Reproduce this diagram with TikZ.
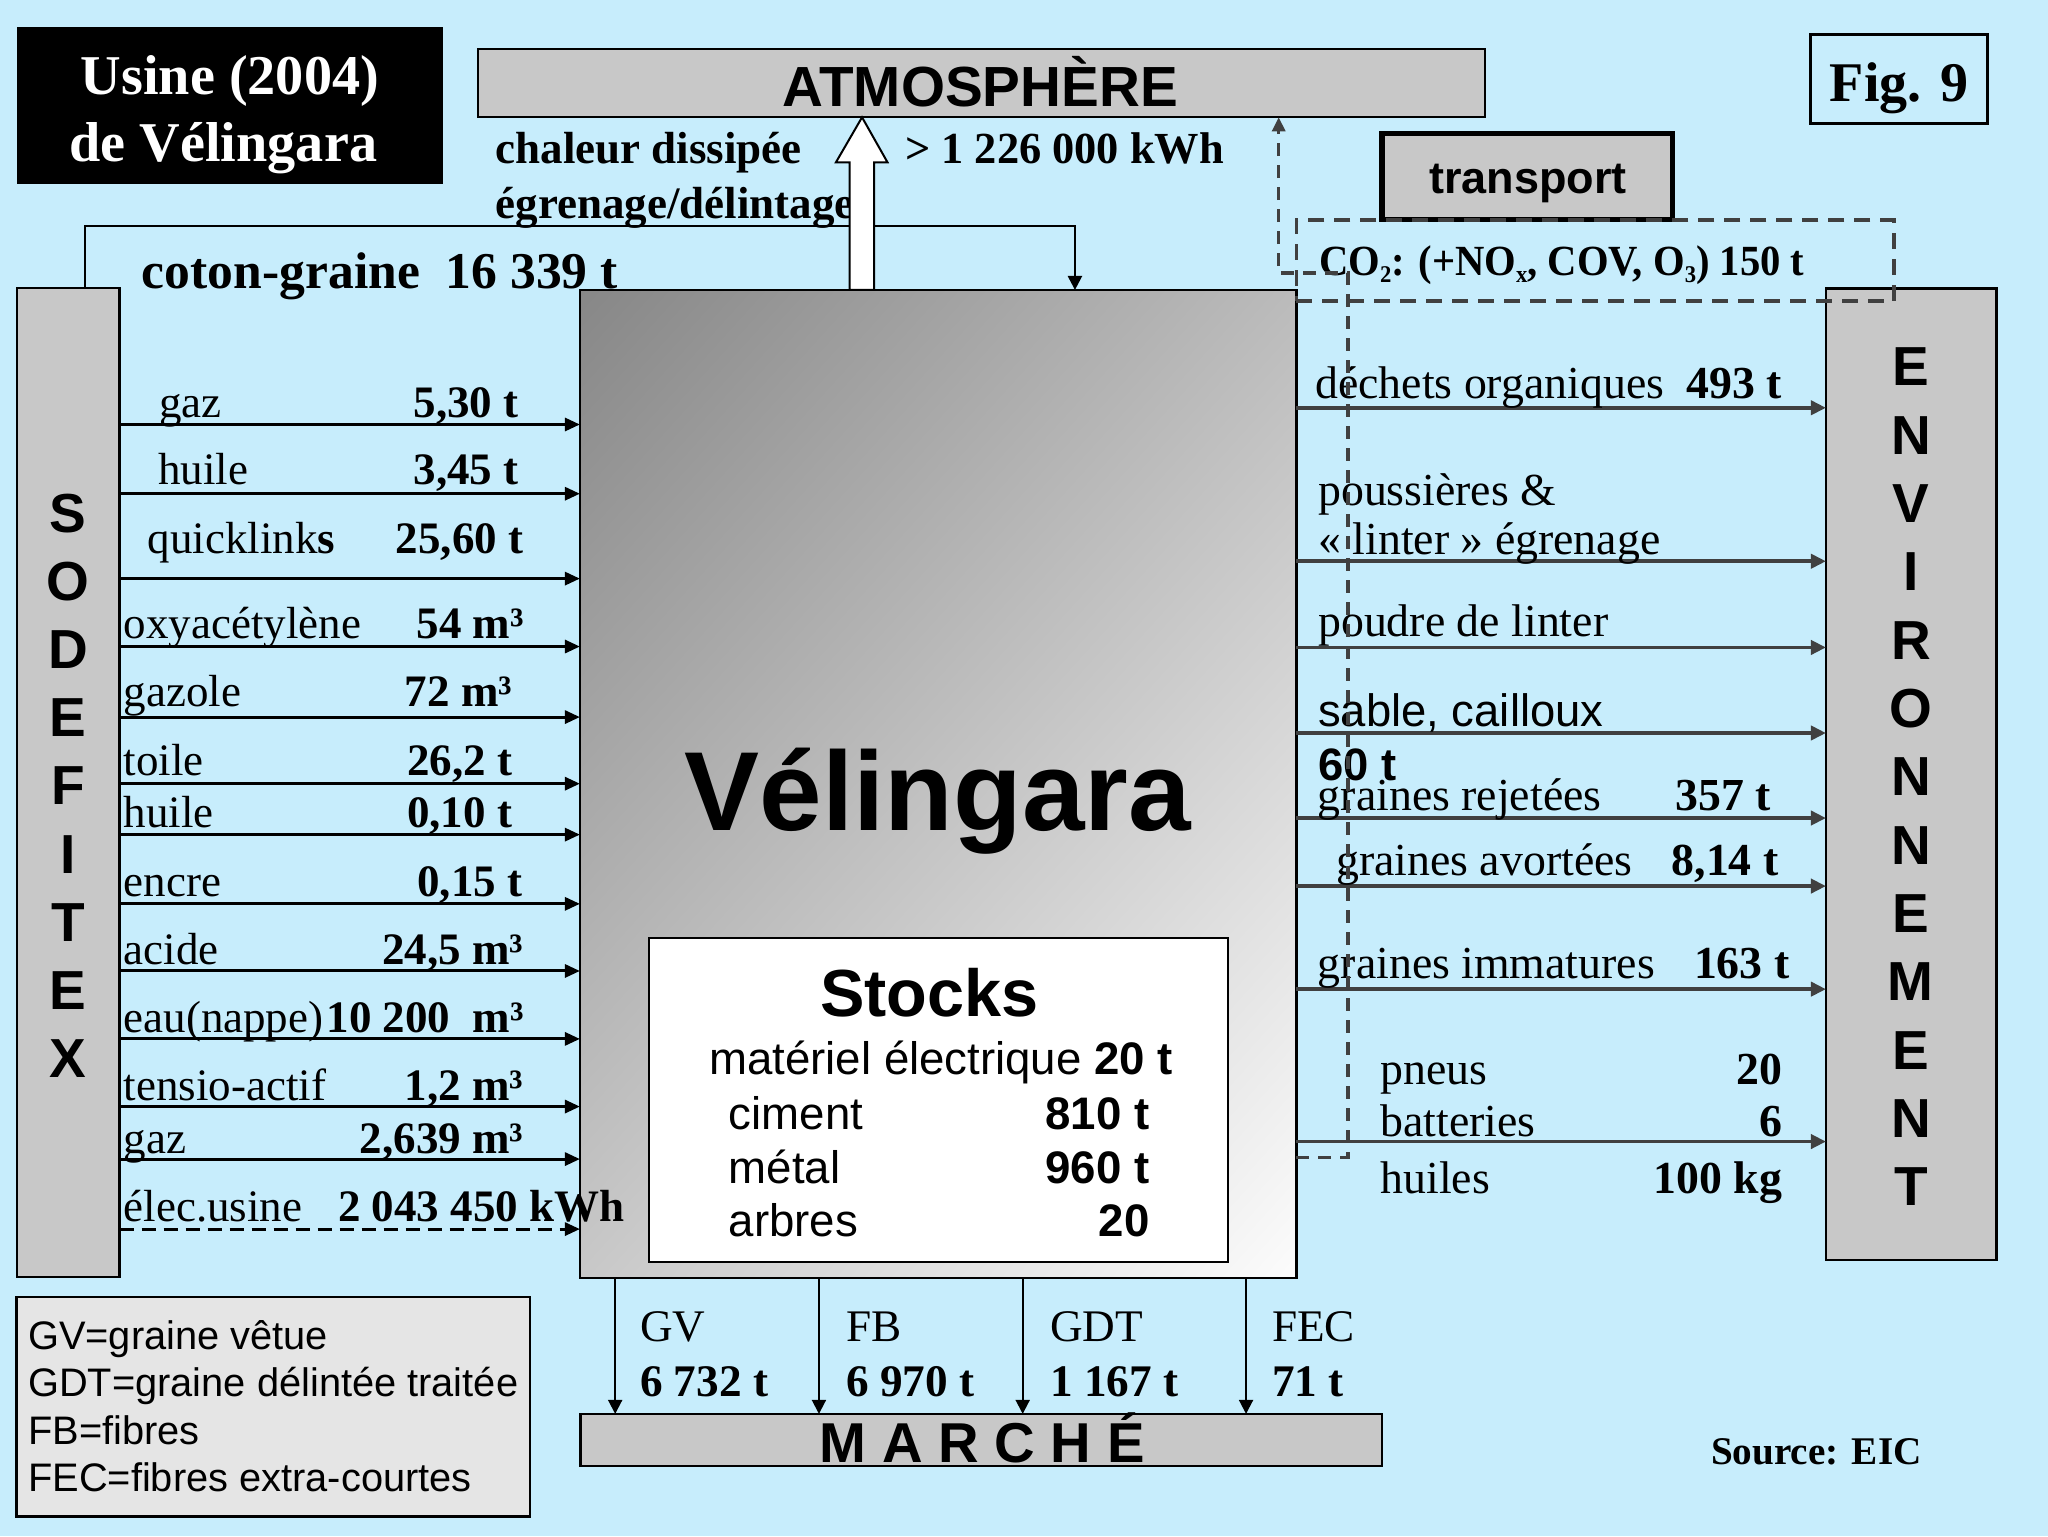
\documentclass[tikz,border=0pt]{standalone}
\usepackage{fontspec}
\usepackage{graphicx}
\setmainfont{Liberation Serif}
\setsansfont{Liberation Sans}
\usetikzlibrary{arrows.meta,fit}
\definecolor{bg}{RGB}{199,237,252}
\definecolor{boxgray}{RGB}{200,200,200}
\definecolor{leggray}{RGB}{229,229,229}
\definecolor{dk}{RGB}{64,64,64}
\newcommand\fz[1]{\fontsize{#1pt}{#1pt}\selectfont}
\newcommand\sbs[1]{\raisebox{-0.35ex}{\fontsize{12pt}{12pt}\selectfont #1}}
\pgfdeclarefunctionalshading{velshade}{\pgfpoint{0bp}{0bp}}{\pgfpoint{100bp}{100bp}}{}{1.3 mul neg exch 1.04 mul add 206.5 add 255 div dup dup}
\tikzset{
  box/.style={draw=black, line width=1.2pt, inner sep=0pt, outer sep=0pt},
  txt/.style={inner sep=0pt, outer sep=0pt},
  lbl/.style={txt, anchor=base west, font=\fz{22.5}},
  lblb/.style={txt, anchor=base east, font=\fz{22.5}\bfseries},
  rlbl/.style={txt, anchor=base west, font=\fz{22.9}},
  rval/.style={txt, anchor=base east, font=\fz{22.9}\bfseries},
  blbl/.style={txt, anchor=base west, font=\fz{22.6}},
  bval/.style={txt, anchor=base west, font=\fz{22.6}\bfseries},
  vlet/.style={txt, font=\fz{27.5}\sffamily\bfseries},
  stk/.style={txt, anchor=base west, font=\fz{22.8}\sffamily},
  stkv/.style={txt, anchor=base east, font=\fz{22.8}\sffamily\bfseries},
  leg/.style={txt, anchor=base west, font=\fz{19.9}\sffamily},
  inarr/.style={draw=black, line width=1.5pt, -{Triangle[length=7.5pt,width=6.5pt]}},
  outarr/.style={draw=dk, line width=1.9pt, -{Triangle[length=7.5pt,width=7pt]}},
  downarr/.style={draw=black, line width=1pt, -{Triangle[length=7pt,width=7pt]}},
  dashline/.style={draw=dk, line width=1.6pt, dash pattern=on 6.5pt off 4.5pt},
  co2box/.style={draw=dk, line width=1.7pt, dash pattern=on 8pt off 5pt, inner sep=0pt, outer sep=0pt},
}
\begin{document}
\begin{tikzpicture}[x=0.65306pt,y=-0.65306pt]
\fill[bg] (0,0) rectangle (1568,1176);
\useasboundingbox (0,0) rectangle (1568,1176);

% ---- boxes
\node[fill=black, inner sep=0pt, outer sep=0pt, fit={(13,21) (339,141)}] (title) {};
\node[txt, anchor=base, text=white, font=\fz{28.1}\bfseries] (title1) at (176,72.7) {Usine (2004)};
\node[txt, anchor=base, text=white, font=\fz{28.1}\bfseries] (title2) at (171,123.8) {de Vélingara};

\node[box, fill=boxgray, fit={(366,37.5) (1137,89.8)}] (atm) {};
\node[txt, anchor=base, font=\fz{28.3}\sffamily\bfseries] (atmtxt) at (750.5,81.2) {ATMOSPHÈRE};

\node[box, line width=1.5pt, fit={(1386,26.5) (1521.5,94.5)}] (fig) {};
\node[txt, anchor=base, font=\fz{28}\bfseries] (figtxt) at (1454,77.9) {Fig. 9};

\node[box, line width=2.6pt, fill=boxgray, fit={(1058,102.5) (1280.5,168)}] (transp) {};
\node[txt, anchor=base, font=\fz{22.5}\sffamily\bfseries] (transptxt) at (1170,148) {transport};

% coton-graine connector
\draw[downarr, line width=1.2pt] (65,220.5) -- (65,173) -- (823,173) -- (823,222);

\node[box, fill=boxgray, fit={(13,220.5) (91.5,977.5)}] (sodef) {};
\node[box, shade, shading=velshade, fit={(444,222) (992.5,978.5)}] (vel) {};
\node[box, fill=boxgray, fit={(1398,220.8) (1528.5,964.5)}] (env) {};
\node[box, fill=white, line width=1pt, fit={(496.5,718.5) (940.5,966)}] (stocks) {};
\node[box, fill=boxgray, fit={(444.4,1082.5) (1058,1122.5)}] (marche) {};
\node[box, fill=leggray, fit={(12.7,993) (405.7,1161)}] (legend) {};

\node[txt, anchor=base west, font=\fz{25.8}\bfseries] (coton) at (108.7,221) {coton-graine\ \ 16 339 t};

% vertical letters
\foreach \c [count=\i] in {S,O,D,E,F,I,T,E,X}
  \node[vlet] (sod\i) at (52.3,{393+52.2*(\i-1)}) {\c};
\foreach \c [count=\i] in {E,N,V,I,R,O,N,N,E,M,E,N,T}
  \node[vlet] (envl\i) at (1463,{281+52.3*(\i-1)}) {\c};

% Velingara + stocks text
\node[txt, anchor=base, font=\fz{56.2}\sffamily\bfseries] (veltxt) at (718,636) {Vélingara};
\node[txt, anchor=base, font=\fz{33.3}\sffamily\bfseries] (stktitle) at (711.5,778) {Stocks};
\node[stk] (s1) at (543,823) {matériel électrique \textbf{20 t}};
\node[stk] (s2) at (558,865) {ciment};
\node[stkv] (s2v) at (880,865) {810 t};
\node[stk] (s3) at (558,906) {métal};
\node[stkv] (s3v) at (880,906) {960 t};
\node[stk] (s4) at (558,947) {arbres};
\node[stkv] (s4v) at (880,947) {20};

% ---- inputs (left)
\draw[inarr] (sodef.east |- 0,325) -- (vel.west |- 0,325);
\node[lbl] (l1) at (122,320) {gaz};
\node[lblb] (v1) at (397,320) {5,30 t};
\draw[inarr] (sodef.east |- 0,378) -- (vel.west |- 0,378);
\node[lbl] (l2) at (121,371) {huile};
\node[lblb] (v2) at (397,371) {3,45 t};
\draw[inarr] (sodef.east |- 0,443) -- (vel.west |- 0,443);
\node[lbl] (l3) at (113,424) {quicklink\textbf{s}};
\node[lblb] (v3) at (400.6,424) {25,60 t};
\draw[inarr] (sodef.east |- 0,495) -- (vel.west |- 0,495);
\node[lbl] (l4) at (94.6,488.5) {oxyacétylène};
\node[lblb] (v4) at (401,488.5) {54 m³};
\draw[inarr] (sodef.east |- 0,549) -- (vel.west |- 0,549);
\node[lbl] (l5) at (94.6,541) {gazole};
\node[lblb] (v5) at (392,541) {72 m³};
\draw[inarr] (sodef.east |- 0,600) -- (vel.west |- 0,600);
\node[lbl] (l6) at (94.6,593.5) {toile};
\node[lblb] (v6) at (392,593.5) {26,2 t};
\draw[inarr] (sodef.east |- 0,639) -- (vel.west |- 0,639);
\node[lbl] (l7) at (94.6,633.7) {huile};
\node[lblb] (v7) at (392,633.7) {0,10 t};
\draw[inarr] (sodef.east |- 0,692) -- (vel.west |- 0,692);
\node[lbl] (l8) at (94.6,686.5) {encre};
\node[lblb] (v8) at (400,686.5) {0,15 t};
\draw[inarr] (sodef.east |- 0,743.4) -- (vel.west |- 0,743.4);
\node[lbl] (l9) at (94.6,738.7) {acide};
\node[lblb] (v9) at (400.6,738.7) {24,5 m³};
\draw[inarr] (sodef.east |- 0,795.4) -- (vel.west |- 0,795.4);
\node[lbl] (l10) at (94.6,790.8) {eau(nappe)};
\node[lblb] (v10) at (401,790.8) {10 200\ \ m³};
\draw[inarr] (sodef.east |- 0,847.2) -- (vel.west |- 0,847.2);
\node[lbl] (l11) at (94.6,842.5) {tensio-actif};
\node[lblb] (v11) at (400.6,842.5) {1,2 m³};
\draw[inarr] (sodef.east |- 0,887.4) -- (vel.west |- 0,887.4);
\node[lbl] (l12) at (94.6,882.8) {gaz};
\node[lblb] (v12) at (400.6,882.8) {2,639 m³};
\draw[inarr, dash pattern=on 7pt off 4pt] (sodef.east |- 0,941) -- (vel.west |- 0,941);
\node[lbl] (l13) at (94.6,935.5) {élec.usine};
\node[lblb] (v13) at (478,935.5) {2 043 450 kWh};

% ---- outputs (right)
\draw[outarr] (vel.east |- 0,312.2) -- (env.west |- 0,312.2);
\node[rlbl] (r1) at (1007,304.9) {déchets organiques};
\node[rval] (rv1) at (1364.4,304.9) {493 t};
\draw[outarr] (vel.east |- 0,429.7) -- (env.west |- 0,429.7);
\node[rlbl] (r2) at (1009.3,386.7) {poussières \&};
\node[rlbl] (r2b) at (1009.3,424.7) {« linter » égrenage};
\draw[outarr] (vel.east |- 0,495.7) -- (env.west |- 0,495.7);
\node[rlbl] (r3) at (1009.3,487.6) {poudre de linter};
\draw[outarr] (vel.east |- 0,561.2) -- (env.west |- 0,561.2);
\node[rlbl, font=\fz{22.7}\sffamily] (r4) at (1009.3,556.2) {sable, cailloux};
\node[rlbl, font=\fz{22.7}\sffamily\bfseries] (r4b) at (1009.3,597.2) {60 t};
\draw[outarr] (vel.east |- 0,626.3) -- (env.west |- 0,626.3);
\node[rlbl] (r5) at (1009,620.5) {graines rejetées};
\node[rval] (rv5) at (1356,620.5) {357 t};
\draw[outarr] (vel.east |- 0,678.4) -- (env.west |- 0,678.4);
\node[rlbl] (r6) at (1023,670.2) {graines avortées};
\node[rval] (rv6) at (1361.7,670.2) {8,14 t};
\draw[outarr] (vel.east |- 0,757.3) -- (env.west |- 0,757.3);
\node[rlbl] (r7) at (1009,749.5) {graines immatures};
\node[rval] (rv7) at (1370,749.5) {163 t};
\draw[outarr] (vel.east |- 0,874) -- (env.west |- 0,874);
\node[rlbl] (r8) at (1057,830) {pneus};
\node[rval] (rv8) at (1364.3,830) {20};
\node[rlbl] (r9) at (1057,870.4) {batteries};
\node[rval] (rv9) at (1364.3,870.4) {6};
\node[rlbl] (r10) at (1057,913.8) {huiles};
\node[rval] (rv10) at (1364.3,913.8) {100 kg};

% ---- outputs (bottom)
\draw[downarr] (vel.south -| 471,0) -- (marche.north -| 471,0);
\draw[downarr] (vel.south -| 627,0) -- (marche.north -| 627,0);
\draw[downarr] (vel.south -| 783,0) -- (marche.north -| 783,0);
\draw[downarr] (vel.south -| 954,0) -- (marche.north -| 954,0);
\node[blbl] (b1) at (490,1027) {GV};
\node[bval] (bv1) at (490,1069) {6 732 t};
\node[blbl] (b2) at (648,1027) {FB};
\node[bval] (bv2) at (648,1069) {6 970 t};
\node[blbl] (b3) at (804,1027) {GDT};
\node[bval] (bv3) at (804,1069) {1 167 t};
\node[blbl] (b4) at (974,1027) {FEC};
\node[bval] (bv4) at (974,1069) {71 t};
\node[txt, anchor=base, font=\fz{28.1}\sffamily\bfseries] (marchetxt) at (752,1120) {M A R C H É};

% legend
\node[leg] (g1) at (21.6,1033) {GV=graine vêtue};
\node[leg] (g2) at (21.6,1068.8) {GDT=graine délintée traitée};
\node[leg] (g3) at (21.6,1106) {FB=fibres};
\node[leg] (g4) at (21.6,1141.6) {FEC=fibres extra-courtes};

\node[txt, anchor=base west, font=\fz{19.6}\bfseries] (source) at (1310,1121.5) {Source: EIC};

% ---- top: heat
\node[txt, anchor=base west, font=\fz{22.5}\bfseries] (heat1) at (379.4,125) {chaleur dissipée};
\node[txt, anchor=base west, font=\fz{22.5}\bfseries] (heat2) at (379.4,167) {égrenage/délintage};
\node[txt, anchor=base west, font=\fz{22.2}\bfseries] (heatv) at (693,125) {> 1 226 000 kWh};
\draw[fill=white, line width=1pt] (vel.north -| 650.5,0) -- (650.5,124.3) -- (640,124.3)
  -- (atm.south -| 660,0) -- (679.5,124.3) -- (669.3,124.3) -- (vel.north -| 669.3,0) -- cycle;

% ---- transport / CO2
\node[co2box, fit={(992.5,168.5) (1450,230.5)}] (co2) {};
\node[txt, anchor=base west, font=\fz{21.5}\bfseries] (co2txt) at (1010,211.3)
  {\scalebox{0.945}[1]{CO\sbs{2}: (+NO\sbs{x}, COV, O\sbs{3}) 150 t}};
\draw[dashline, -{Triangle[length=7pt,width=6.5pt]}] (vel.east |- 0,886) -- (1032,886) -- (1032,209)
  -- (979,209) -- (atm.south -| 979,0);
\end{tikzpicture}
\end{document}
